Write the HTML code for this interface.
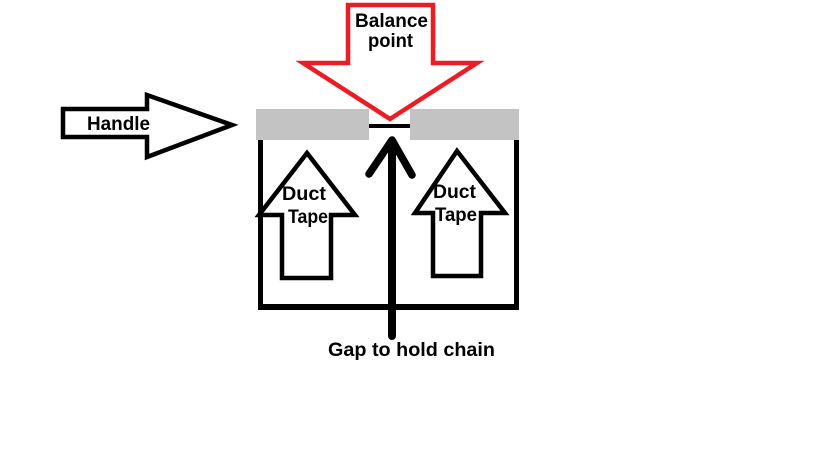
<!DOCTYPE html>
<html>
<head>
<meta charset="utf-8">
<style>
  html, body { margin: 0; padding: 0; background: #ffffff; }
  body { width: 813px; height: 462px; overflow: hidden; }
  svg { display: block; }
  text { font-family: "Liberation Sans", Arial, sans-serif; font-weight: bold; font-size: 19px; fill: #000; }
</style>
</head>
<body>
<svg width="813" height="462" viewBox="0 0 813 462" xmlns="http://www.w3.org/2000/svg">
  <rect x="0" y="0" width="813" height="462" fill="#ffffff"/>

  <!-- Gray bars -->
  <rect x="256" y="109" width="113" height="31" fill="#c3c3c3"/>
  <rect x="410" y="109" width="109" height="31" fill="#c3c3c3"/>
  <!-- Black gap line -->
  <rect x="369" y="124" width="41" height="4" fill="#000"/>

  <!-- Red balance arrow -->
  <polygon points="348,5 433,5 433,63 477,63 390,119 303,63 348,63" fill="none" stroke="#ed1c24" stroke-width="4.5" stroke-linejoin="miter"/>

  <!-- Box -->
  <rect x="258" y="140" width="5" height="170" fill="#000"/>
  <rect x="514" y="140" width="5" height="170" fill="#000"/>
  <rect x="258" y="304" width="261" height="6" fill="#000"/>

  <!-- Central arrow -->
  <line x1="392" y1="142" x2="392" y2="336" stroke="#000" stroke-width="8" stroke-linecap="round"/>
  <polyline points="369,174 392,140 412,175" fill="none" stroke="#000" stroke-width="7.5" stroke-linecap="round" stroke-linejoin="round"/>

  <!-- Left duct tape arrow -->
  <polygon points="307,153 355,215 331,215 331,278 282,278 282,215 259,215" fill="none" stroke="#000" stroke-width="4.5"/>
  <!-- Right duct tape arrow -->
  <polygon points="457,151 505,213 481,213 481,276 433,276 433,213 415,213" fill="none" stroke="#000" stroke-width="4.5"/>

  <!-- Handle arrow -->
  <polygon points="63,109 147,109 147,95 232,125 147,157 147,137 63,137" fill="none" stroke="#000" stroke-width="4.5"/>

  <!-- Labels -->
  <text x="355" y="27" font-size="20" textLength="73" lengthAdjust="spacingAndGlyphs">Balance</text>
  <text x="368" y="47" font-size="20" textLength="45" lengthAdjust="spacingAndGlyphs">point</text>
  <text x="87" y="130" textLength="63" lengthAdjust="spacingAndGlyphs">Handle</text>
  <text x="282" y="200" textLength="44" lengthAdjust="spacingAndGlyphs">Duct</text>
  <text x="288" y="223" textLength="40" lengthAdjust="spacingAndGlyphs">Tape</text>
  <text x="433" y="198" textLength="43" lengthAdjust="spacingAndGlyphs">Duct</text>
  <text x="435" y="221" textLength="42" lengthAdjust="spacingAndGlyphs">Tape</text>
  <text x="328" y="356" textLength="167" lengthAdjust="spacingAndGlyphs">Gap to hold chain</text>
</svg>
</body>
</html>
